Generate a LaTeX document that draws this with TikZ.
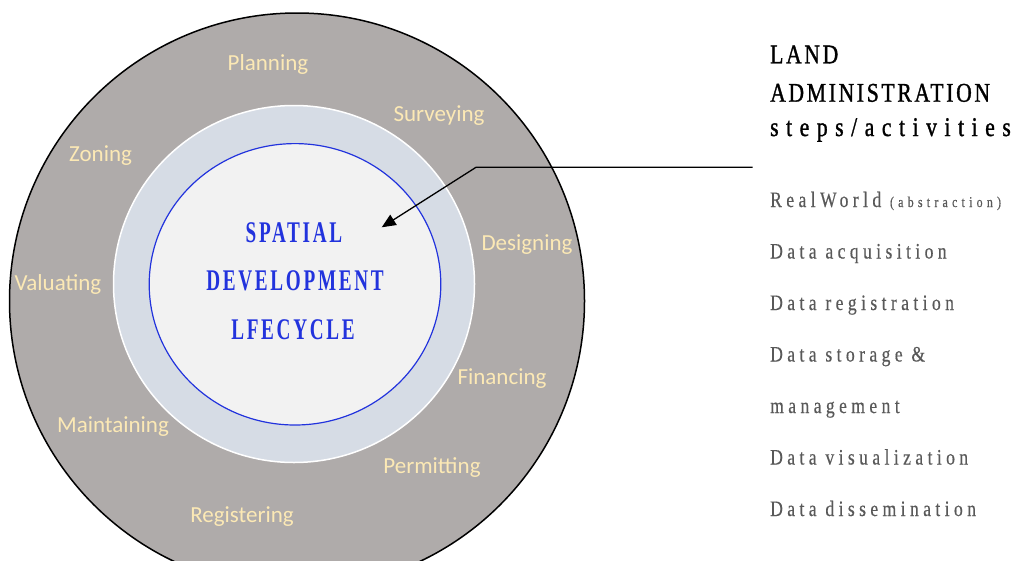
\documentclass[tikz,border=0pt]{standalone}
\usepackage{fontspec}
\setmainfont{Liberation Serif}
\newfontfamily\labfont{Carlito}
\newfontfamily\ctrfont[FakeStretch=0.64,LetterSpace=9]{Liberation Serif}
\newfontfamily\ttlfont[FakeStretch=0.8,LetterSpace=10,FakeBold=1.2]{Liberation Serif}
\newfontfamily\ttlfontlow[FakeStretch=0.8,LetterSpace=28,FakeBold=1.2]{Liberation Serif}
\newfontfamily\lstfont[FakeStretch=0.8,LetterSpace=20,FakeBold=0.4]{Liberation Serif}
\newfontfamily\smlfont[FakeStretch=0.8,LetterSpace=28,FakeBold=0.4]{Liberation Serif}
\usetikzlibrary{arrows.meta}
\definecolor{outerfill}{RGB}{175,171,170}
\definecolor{ringfill}{RGB}{214,220,229}
\definecolor{innerfill}{RGB}{242,242,242}
\definecolor{cblue}{RGB}{34,51,221}
\definecolor{cream}{RGB}{252,233,181}
\definecolor{listgray}{RGB}{89,89,89}
\begin{document}
\begin{tikzpicture}[x=1pt,y=-1pt,
  lab/.style={anchor=base, inner sep=0pt, text=cream, font=\labfont\fontsize{23}{27}\selectfont},
  ctr/.style={anchor=base, inner sep=0pt, text=cblue, font=\ctrfont\bfseries\fontsize{30}{34}\selectfont},
  ttl/.style={anchor=base west, inner sep=0pt, text=black, font=\ttlfont\fontsize{27}{30}\selectfont},
  ttllow/.style={anchor=base west, inner sep=0pt, text=black, font=\ttlfontlow\fontsize{27}{30}\selectfont},
  lst/.style={anchor=base west, inner sep=0pt, text=listgray, font=\lstfont\fontsize{22}{25}\selectfont},
  connector/.style={draw=black, line width=1.3pt, -{Triangle[length=14pt,width=12pt]}}]
\useasboundingbox (0,0) rectangle (1014,560);
\path[clip] (0,0) rectangle (1014,560);
% circles
\path[draw=black, line width=1.5pt, fill=outerfill] (297,301) ellipse [x radius=287.5pt, y radius=288pt];
\path[draw=white, line width=1.5pt, fill=ringfill] (294,284) ellipse [x radius=180.5pt, y radius=178.5pt];
\path[draw=cblue, line width=1.2pt, fill=innerfill] (295,284.3) ellipse [x radius=145.8pt, y radius=140.7pt];
% ring labels
\node[lab] (planning) at (268,70.7) {Planning};
\node[lab] (surveying) at (439,121.7) {Surveying};
\node[lab] (zoning) at (100.6,161.7) {Zoning};
\node[lab] (designing) at (527,250.7) {Designing};
\node[lab] (valuating) at (58,290.7) {Valuating};
\node[lab] (financing) at (502,384.7) {Financing};
\node[lab] (maintaining) at (113,432.7) {Maintaining};
\node[lab] (permitting) at (432,473.3) {Permitting};
\node[lab] (registering) at (242,522.7) {Registering};
% centre text
\node[ctr] (spatial) at (294,242.5) {SPATIAL};
\node[ctr] (development) at (295,290.5) {DEVELOPMENT};
\node[ctr] (lifecycle) at (293,339.5) {LFECYCLE};
% title
\node[ttl] (land) at (770,63.3) {LAND};
\node[ttl] (admin) at (770,101.7) {ADMINISTRATION};
\node[ttllow] (steps) at (770,136) {steps/activities};
% list
\node[lst] (realworld) at (770,207) {RealWorld {\smlfont\fontsize{15}{18}\selectfont(abstraction)}};
\node[lst] (acq) at (770,258.5) {Data acquisition};
\node[lst] (reg) at (770,310) {Data registration};
\node[lst] (stor) at (770,361.5) {Data storage \&};
\node[lst] (mgmt) at (770,413) {management};
\node[lst] (vis) at (770,464.5) {Data visualization};
\node[lst] (diss) at (770,516) {Data dissemination};
% connector
\coordinate (linestart) at (752.7,167.3);
\coordinate (bend) at (476,167.3);
\coordinate (tip) at (381.7,227.3);
\draw[connector] (linestart) -- (bend) -- (tip);
\end{tikzpicture}
\end{document}
